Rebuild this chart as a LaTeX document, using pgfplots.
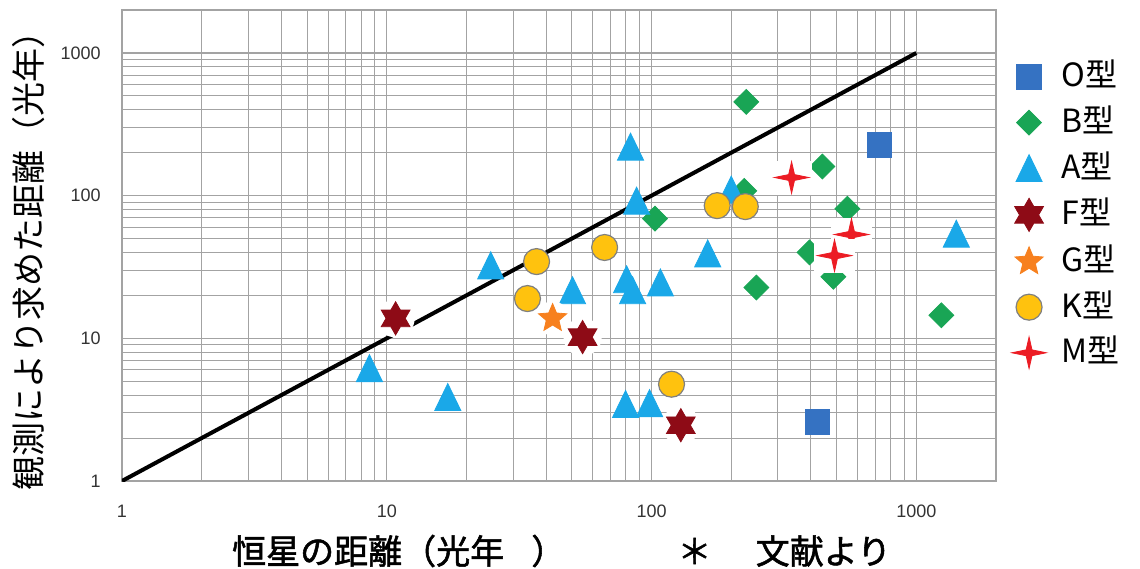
\documentclass[border=0pt]{standalone}
\usepackage{fontspec}
\setmainfont{Noto Sans CJK JP}
\newfontfamily\xlabfont{Noto Sans CJK JP}[FakeBold=1.6]
\newfontfamily\tickfont{Liberation Sans}
\usepackage{pgfplots}
\pgfplotsset{compat=1.18}
\usepackage{pgfplotstable}

\definecolor{Ocol}{HTML}{3572C2}
\definecolor{Bcol}{HTML}{19A555}
\definecolor{Acol}{HTML}{1AA8E8}
\definecolor{Fcol}{HTML}{8E0B16}
\definecolor{Gcol}{HTML}{F7801E}
\definecolor{Kcol}{HTML}{FFC20E}
\definecolor{Mcol}{HTML}{EC1C24}
\definecolor{gridc}{HTML}{A3A3A3}

\newcommand\pp[2]{\pgfpointpolar{#1}{#2\pgfplotmarksize}}

% six-pointed star with white halo
\pgfdeclareplotmark{Fstar}{%
  \pgfscope
  \pgfsetfillcolor{white}%
  \pgfpathcircle{\pgfpointorigin}{1.15\pgfplotmarksize}\pgfusepathqfill
  \pgfsetfillcolor{Fcol}\pgfsetstrokecolor{Fcol}%
  \pgfpathmoveto{\pp{90}{1}}\pgfpathlineto{\pp{120}{0.577}}%
  \pgfpathlineto{\pp{150}{1}}\pgfpathlineto{\pp{180}{0.577}}%
  \pgfpathlineto{\pp{210}{1}}\pgfpathlineto{\pp{240}{0.577}}%
  \pgfpathlineto{\pp{270}{1}}\pgfpathlineto{\pp{300}{0.577}}%
  \pgfpathlineto{\pp{330}{1}}\pgfpathlineto{\pp{0}{0.577}}%
  \pgfpathlineto{\pp{30}{1}}\pgfpathlineto{\pp{60}{0.577}}%
  \pgfpathclose\pgfusepathqfillstroke
  \endpgfscope
}
% five-pointed star with white halo
\pgfdeclareplotmark{Gstar}{%
  \pgfscope
  \pgfsetfillcolor{white}%
  \pgfpathcircle{\pgfpointorigin}{1.15\pgfplotmarksize}\pgfusepathqfill
  \pgfsetfillcolor{Gcol}\pgfsetstrokecolor{Gcol}%
  \pgfpathmoveto{\pp{90}{1}}\pgfpathlineto{\pp{126}{0.45}}%
  \pgfpathlineto{\pp{162}{1}}\pgfpathlineto{\pp{198}{0.45}}%
  \pgfpathlineto{\pp{234}{1}}\pgfpathlineto{\pp{270}{0.45}}%
  \pgfpathlineto{\pp{306}{1}}\pgfpathlineto{\pp{342}{0.45}}%
  \pgfpathlineto{\pp{18}{1}}\pgfpathlineto{\pp{54}{0.45}}%
  \pgfpathclose\pgfusepathqfillstroke
  \endpgfscope
}
% four-pointed star with white halo
\pgfdeclareplotmark{Mstar}{%
  \pgfscope
  \pgfsetfillcolor{white}%
  \pgfpathrectanglecorners{\pgfpoint{-1.18\pgfplotmarksize}{-1.0\pgfplotmarksize}}{\pgfpoint{1.18\pgfplotmarksize}{0.95\pgfplotmarksize}}\pgfusepathqfill
  \pgfsetfillcolor{Mcol}\pgfsetstrokecolor{Mcol}%
  \pgfpathmoveto{\pgfpoint{\pgfplotmarksize}{0pt}}%
  \pgfpathlineto{\pgfpoint{0.17\pgfplotmarksize}{0.17\pgfplotmarksize}}%
  \pgfpathlineto{\pgfpoint{0pt}{0.92\pgfplotmarksize}}%
  \pgfpathlineto{\pgfpoint{-0.17\pgfplotmarksize}{0.17\pgfplotmarksize}}%
  \pgfpathlineto{\pgfpoint{-\pgfplotmarksize}{0pt}}%
  \pgfpathlineto{\pgfpoint{-0.17\pgfplotmarksize}{-0.17\pgfplotmarksize}}%
  \pgfpathlineto{\pgfpoint{0pt}{-0.92\pgfplotmarksize}}%
  \pgfpathlineto{\pgfpoint{0.17\pgfplotmarksize}{-0.17\pgfplotmarksize}}%
  \pgfpathclose\pgfusepathqfillstroke
  \endpgfscope
}

\pgfplotsset{
  Ostyle/.style={only marks, mark=square*, mark size=6.1pt, mark options={fill=Ocol, draw=Ocol}},
  Bstyle/.style={only marks, mark=square*, mark size=4.4pt, mark options={fill=Bcol, draw=Bcol, rotate=45}},
  Astyle/.style={only marks, mark=triangle*, mark size=9pt, mark options={fill=Acol, draw=Acol, yshift=-2.2pt, xscale=0.84}},
  Fstyle/.style={only marks, mark=Fstar, mark size=8.3pt},
  Gstyle/.style={only marks, mark=Gstar, mark size=7.4pt},
  Kstyle/.style={only marks, mark=*, mark size=6.5pt, mark options={fill=Kcol, draw=gray, line width=0.6pt}},
  Mstyle/.style={only marks, mark=Mstar, mark size=8.6pt},
}

\pgfplotstableread{
x y
725 227
423 2.59
}\Odata
\pgfplotstableread{
x y
228 454
103 69
249 22.7
442 160
549 81
395 40
1243 14.5
224 108
486 27
}\Bdata
\pgfplotstableread{
x y
83.3 220
87.8 92
200 110
24.7 32.4
50.3 21.7
80.5 25.9
84.8 21.7
108 24.6
163 39.3
8.6 6.17
17.0 3.87
79.8 3.46
98.3 3.51
1416 54
}\Adata
\pgfplotstableread{
x y
10.8 13.8
54.9 10.2
129 2.46
}\Fdata
\pgfplotstableread{
x y
42.3 13.8
}\Gdata
\pgfplotstableread{
x y
36.8 34.5
34.0 19.0
66.5 43.3
119 4.77
177 85.1
226 83.8
}\Kdata
\pgfplotstableread{
x y
338 134
569 53.4
491 38.0
}\Mdata

\begin{document}
\begin{tikzpicture}
\useasboundingbox (-61pt,-43.5pt) rectangle (509pt,240.5pt);
\begin{axis}[
  at={(0,0)}, anchor=south west,
  width=437pt, height=235.5pt, scale only axis,
  xmode=log, ymode=log,
  xmin=1, xmax=2000, ymin=1, ymax=2000,
  xtick={1,10,100,1000}, xticklabels={1,10,100,1000},
  ytick={1,10,100,1000}, yticklabels={1,10,100,1000},
  minor xtick={2,3,4,5,6,7,8,9,20,30,40,50,60,70,80,90,200,300,400,500,600,700,800,900},
  minor ytick={2,3,4,5,6,7,8,9,20,30,40,50,60,70,80,90,200,300,400,500,600,700,800,900},
  major tick length=0pt, minor tick length=0pt,
  xmajorgrids, xminorgrids, ymajorgrids, yminorgrids,
  major grid style={gridc, line width=0.6pt},
  minor grid style={gridc, line width=0.5pt},
  axis line style={gridc, line width=0.6pt},
  tick label style={font=\tickfont\fontsize{9}{10}\selectfont, text=black!80},
  xticklabel style={anchor=center, yshift=-15pt},
  yticklabel style={anchor=east, inner sep=0pt, xshift=-10.5pt},
  xlabel={\xlabfont\fontsize{17}{19}\selectfont 恒星の距離（光年\hspace{0.8em}）\hspace{3.3em}＊\hspace{1.3em}文献より},
  xlabel style={at={(axis description cs:0.503,-0.1486)}, anchor=center},
  ylabel={\fontsize{17}{19}\selectfont 観測により求めた距離（光年）},
  ylabel style={at={(axis description cs:-0.1064,0.485)}, anchor=center, rotate=0},
  legend style={at={(axis description cs:1.0146,0.896)}, anchor=north west,
    draw=none, fill=none, inner sep=0pt, outer sep=0pt,
    font=\fontsize{16}{18}\selectfont, row sep=4.8pt,
    nodes={text height=14pt, text depth=4pt, inner sep=0pt},
    /tikz/every odd column/.append style={column sep=6pt}},
  legend cell align=left,
]
\addplot[Ostyle, forget plot] table[x=x,y=y] {\Odata};
\addplot[Bstyle, forget plot] table[x=x,y=y] {\Bdata};
\addplot[Astyle, forget plot] table[x=x,y=y] {\Adata};
\addplot[Kstyle, forget plot] table[x=x,y=y] {\Kdata};
\addplot[black, line width=2pt, forget plot] coordinates {(1,1) (1000,1000)};
\addplot[Fstyle, forget plot] table[x=x,y=y] {\Fdata};
\addplot[Gstyle, forget plot] table[x=x,y=y] {\Gdata};
\addplot[Mstyle, forget plot] table[x=x,y=y] {\Mdata};
\addlegendimage{Ostyle}\addlegendentry{O型}
\addlegendimage{Bstyle}\addlegendentry{B型}
\addlegendimage{Astyle}\addlegendentry{A型}
\addlegendimage{Fstyle}\addlegendentry{F型}
\addlegendimage{Gstyle}\addlegendentry{G型}
\addlegendimage{Kstyle}\addlegendentry{K型}
\addlegendimage{Mstyle}\addlegendentry{M型}
\end{axis}
\end{tikzpicture}
\end{document}
